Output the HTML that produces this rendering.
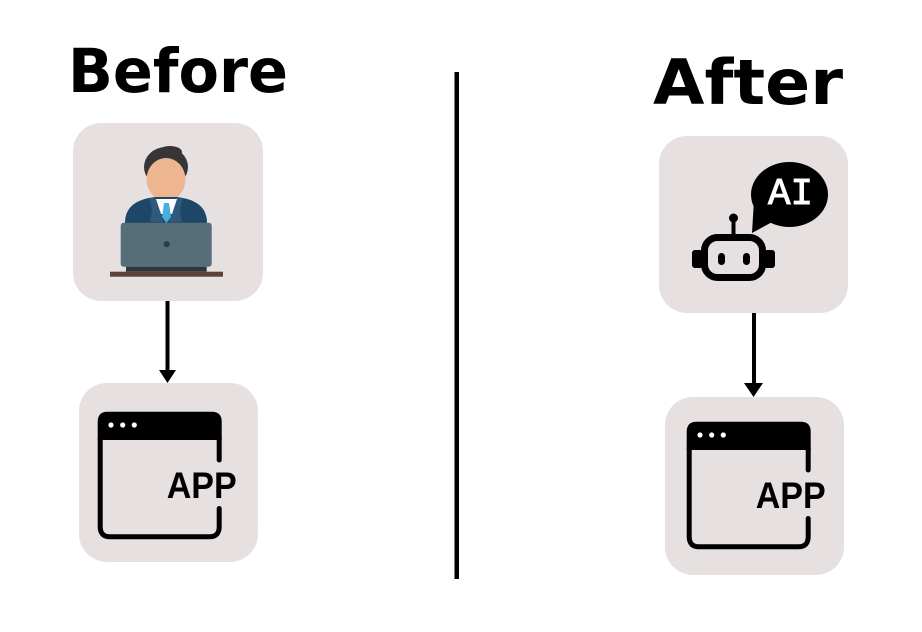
<!DOCTYPE html>
<html>
<head>
<meta charset="utf-8">
<style>
  html, body { margin:0; padding:0; background:#ffffff; }
  body { width:922px; height:632px; overflow:hidden; }
  svg { display:block; }
</style>
</head>
<body>
<svg width="922" height="632" viewBox="0 0 922 632" xmlns="http://www.w3.org/2000/svg">
  <rect width="922" height="632" fill="#ffffff"/>

  <!-- Titles -->
  <text x="68" y="92" font-family="DejaVu Sans, Liberation Sans, sans-serif" font-weight="bold" font-size="61" textLength="220" lengthAdjust="spacingAndGlyphs" fill="#000">Before</text>
  <text x="653" y="104" font-family="DejaVu Sans, Liberation Sans, sans-serif" font-weight="bold" font-size="62" textLength="190" lengthAdjust="spacingAndGlyphs" fill="#000">After</text>

  <!-- Divider -->
  <rect x="454.5" y="72" width="4.5" height="507" fill="#000"/>

  <!-- Boxes -->
  <rect x="73" y="123" width="190" height="178" rx="28" fill="#e6e1e0"/>
  <rect x="79" y="383" width="179" height="179" rx="28" fill="#e6e1e0"/>
  <rect x="659" y="136" width="189" height="177" rx="28" fill="#e6e1e0"/>
  <rect x="665" y="397" width="179" height="178" rx="28" fill="#e6e1e0"/>

  <!-- Arrows -->
  <rect x="165.5" y="301" width="4" height="71" fill="#000"/>
  <polygon points="159,370 176,370 167.5,383" fill="#000"/>
  <rect x="752" y="313" width="4" height="72" fill="#000"/>
  <polygon points="744,383 763,383 753.5,397" fill="#000"/>

  <!-- Person at laptop -->
  <g>
    <ellipse cx="166" cy="167" rx="22" ry="20" fill="#363636"/>
    <ellipse cx="170" cy="152" rx="12" ry="6" fill="#363636"/>
    <ellipse cx="166" cy="179.5" rx="19.5" ry="21.5" fill="#edb590"/>
    <path d="M125,223 C125,205 139,199 155,197 L177,197 C193,199 207,205 207,223 Z" fill="#1e4666"/>
    <polygon points="149,198 156,198 163,222 150,222 152,210" fill="#2d5a7c"/>
    <polygon points="183,198 176,198 169,222 182,222 180,210" fill="#2d5a7c"/>
    <polygon points="156,199 177,199 172,214 161,214" fill="#ffffff"/>
    <polygon points="164,203 169,203 171,217 166.5,223 162,217" fill="#45b0e0"/>
    <rect x="120.7" y="222.7" width="91" height="44" rx="3" fill="#566e7a"/>
    <circle cx="166.7" cy="244.3" r="3" fill="#2b3a44"/>
    <rect x="126" y="266.7" width="80.7" height="5" fill="#2e373d"/>
    <rect x="110" y="271.7" width="113" height="5" fill="#5b4339"/>
  </g>

  <!-- Robot + AI bubble -->
  <g>
    <ellipse cx="789.5" cy="194.5" rx="38.5" ry="32.5" fill="#000"/>
    <polygon points="754,200 752,233 774,221" fill="#000"/>
    <text x="790.5" y="204" text-anchor="middle" font-family="Liberation Mono, DejaVu Sans Mono, monospace" font-size="38" textLength="45" lengthAdjust="spacingAndGlyphs" fill="#ffffff" stroke="#ffffff" stroke-width="1">AI</text>

    <circle cx="733.5" cy="218" r="4.5" fill="#000"/>
    <rect x="731.5" y="220" width="4" height="16" fill="#000"/>
    <rect x="692" y="250" width="11" height="18" rx="3" fill="#000"/>
    <rect x="764" y="250" width="11" height="18" rx="3" fill="#000"/>
    <rect x="704.5" y="237.5" width="58" height="40" rx="13" fill="#e6e1e0" stroke="#000" stroke-width="7"/>
    <rect x="718" y="253" width="7" height="12" rx="3.5" fill="#000"/>
    <rect x="743" y="253" width="7" height="12" rx="3.5" fill="#000"/>
  </g>

  <!-- APP icon (left) -->
  <g>
    <path d="M97.7,440 V421.7 Q97.7,411.7 107.7,411.7 H211.7 Q221.7,411.7 221.7,421.7 V440 Z" fill="#000"/>
    <path d="M100.2,438 V526.8 Q100.2,536.8 110.2,536.8 H209.2 Q219.2,536.8 219.2,526.8 V508.5" fill="none" stroke="#000" stroke-width="5" stroke-linecap="round"/>
    <path d="M219.2,438 V460" fill="none" stroke="#000" stroke-width="5" stroke-linecap="round"/>
    <circle cx="111" cy="425" r="2.6" fill="#fff"/>
    <circle cx="122.7" cy="425" r="2.6" fill="#fff"/>
    <circle cx="134.3" cy="425" r="2.6" fill="#fff"/>
    <text x="166.7" y="498" font-family="Liberation Sans, DejaVu Sans, sans-serif" font-weight="bold" font-size="37" textLength="70" lengthAdjust="spacingAndGlyphs" fill="#000">APP</text>
  </g>

  <!-- APP icon (right) -->
  <g transform="translate(589,10)">
    <path d="M97.7,440 V421.7 Q97.7,411.7 107.7,411.7 H211.7 Q221.7,411.7 221.7,421.7 V440 Z" fill="#000"/>
    <path d="M100.2,438 V526.8 Q100.2,536.8 110.2,536.8 H209.2 Q219.2,536.8 219.2,526.8 V508.5" fill="none" stroke="#000" stroke-width="5" stroke-linecap="round"/>
    <path d="M219.2,438 V460" fill="none" stroke="#000" stroke-width="5" stroke-linecap="round"/>
    <circle cx="111" cy="425" r="2.6" fill="#fff"/>
    <circle cx="122.7" cy="425" r="2.6" fill="#fff"/>
    <circle cx="134.3" cy="425" r="2.6" fill="#fff"/>
    <text x="166.7" y="498" font-family="Liberation Sans, DejaVu Sans, sans-serif" font-weight="bold" font-size="37" textLength="70" lengthAdjust="spacingAndGlyphs" fill="#000">APP</text>
  </g>
</svg>
</body>
</html>
